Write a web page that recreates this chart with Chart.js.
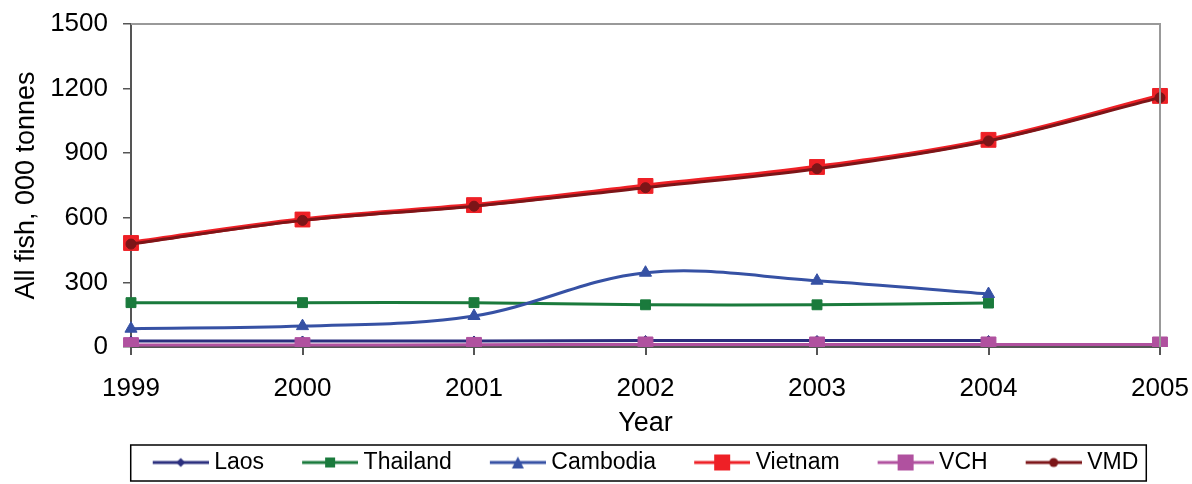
<!DOCTYPE html>
<html>
<head>
<meta charset="utf-8">
<script src="https://cdn.jsdelivr.net/npm/chart.js@4"></script>
<style>
  html, body { margin: 0; padding: 0; background: #fff; }
  #wrap { width: 1192px; height: 484px; }
</style>
</head>
<body>
<div id="wrap"><canvas id="fish-chart" width="1192" height="484"></canvas></div>
<script>
// Data (000 tonnes)
const years = ['1999', '2000', '2001', '2002', '2003', '2004', '2005'];
const laos = [28, 28, 28, 30, 30, 30, null];
const thailand = [206, 206, 206, 196, 196, 204, null];
const cambodia = [85, 97, 144, 345, 308, 246, null];
const vietnam = [483, 592, 659, 748, 836, 962, 1166];
const vch = [9, 9, 10, 12, 12, 12, 12];
const vmd = [478, 588, 654, 740, 828, 957, 1158];
const yTicks = [0, 300, 600, 900, 1200, 1500];

const FONT = 'Liberation Sans, Arial, sans-serif';
const GAP = 34;      // blank space left of each legend symbol
const SYM = 56;      // width of the line+marker symbol
const OVER = 6;      // how far the symbol reaches into the text gap

// Little line+marker image used as the legend symbol
function legendSymbol(color, style, size) {
    const c = document.createElement('canvas');
    c.width = GAP + SYM;
    c.height = 20;
    const g = c.getContext('2d');
    const cx = GAP + SYM / 2, cy = 10;
    g.strokeStyle = color;
    g.lineWidth = 3;
    g.beginPath();
    g.moveTo(GAP, cy);
    g.lineTo(GAP + SYM, cy);
    g.stroke();
    g.fillStyle = color;
    g.beginPath();
    if (style === 'rect') {
        g.rect(cx - size / 2, cy - size / 2, size, size);
    } else if (style === 'rectRot') {
        g.moveTo(cx, cy - size / 2); g.lineTo(cx + size / 2, cy);
        g.lineTo(cx, cy + size / 2); g.lineTo(cx - size / 2, cy);
    } else if (style === 'triangle') {
        g.moveTo(cx, cy - size / 2); g.lineTo(cx + size / 2, cy + size / 2);
        g.lineTo(cx - size / 2, cy + size / 2);
    } else {
        g.arc(cx, cy, size / 2, 0, Math.PI * 2);
    }
    g.fill();
    return c;
}

function series(label, data, color, style, radius, width, legendSize, order) {
    return {
        label: label,
        data: data,
        borderColor: color,
        backgroundColor: color,
        borderWidth: width,
        pointStyle: style,
        pointRadius: radius,
        pointBorderWidth: 1,
        pointBackgroundColor: color,
        pointBorderColor: color,
        tension: 0.35,
        spanGaps: false,
        order: order,
        legendImage: legendSymbol(color, style, legendSize)
    };
}

const datasets = [
    series('Laos', laos, '#2B2F7E', 'rectRot', 5, 3, 9, 6),
    series('Thailand', thailand, '#1A7A3C', 'rect', 7, 3, 10, 5),
    series('Cambodia', cambodia, '#3651A4', 'triangle', 7, 3, 12, 4),
    series('Vietnam', vietnam, '#EE2026', 'rect', 10.5, 4.5, 16, 3),
    series('VCH', vch, '#B0519F', 'rect', 10.5, 3, 16, 2),
    series('VMD', vmd, '#7C1518', 'circle', 5, 3, 9, 1)
];

function legendExtent(lg) {
    let l = Infinity, r = -Infinity, t = Infinity, b = -Infinity;
    lg.legendHitBoxes.forEach(h => {
        l = Math.min(l, h.left); r = Math.max(r, h.left + h.width);
        t = Math.min(t, h.top); b = Math.max(b, h.top + h.height);
    });
    return { l: l + GAP - OVER, r: r, t: t, b: b };
}

// center the visible legend items under the plot area
const legendNudge = {
    id: 'legendNudge',
    beforeDraw(chart) {
        const lg = chart.legend;
        if (!lg || lg._nudged || !lg.legendHitBoxes.length) return;
        const e = legendExtent(lg);
        const a = chart.chartArea;
        const shift = (a.left + a.right) / 2 - (e.l + e.r) / 2;
        lg.left += shift;
        lg.right += shift;
        lg.legendHitBoxes.forEach(h => { h.left += shift; });
        lg._nudged = true;
    }
};

// top/right frame of the plot and the box round the legend
const framePlugin = {
    id: 'frame',
    afterDraw(chart) {
        const ctx = chart.ctx;
        const a = chart.chartArea;
        ctx.save();
        ctx.strokeStyle = '#999999';
        ctx.lineWidth = 2;
        ctx.beginPath();
        ctx.moveTo(a.left, a.top);
        ctx.lineTo(a.right, a.top);
        ctx.lineTo(a.right, a.bottom);
        ctx.stroke();

        if (chart.legend.legendHitBoxes.length) {
            const e = legendExtent(chart.legend);
            const x0 = e.l - 22;
            ctx.strokeStyle = '#000000';
            ctx.lineWidth = 1.5;
            ctx.strokeRect(x0, e.t - 6, (e.r + 8) - x0, (e.b - e.t) + 13);
        }
        ctx.restore();
    }
};

new Chart(document.getElementById('fish-chart').getContext('2d'), {
    type: 'line',
    data: { labels: years, datasets: datasets },
    options: {
        responsive: false,
        animation: false,
        layout: { padding: 0 },
        scales: {
            x: {
                type: 'category',
                offset: false,
                grid: {
                    display: true,
                    drawOnChartArea: false,
                    drawTicks: true,
                    tickLength: 8,
                    color: '#555555',
                    lineWidth: 2
                },
                border: { display: true, color: '#555555', width: 2 },
                ticks: {
                    color: '#000',
                    font: { family: FONT, size: 26 },
                    padding: 18,
                    maxRotation: 0,
                    autoSkip: false
                },
                title: {
                    display: true,
                    text: 'Year',
                    color: '#000',
                    font: { family: FONT, size: 27 },
                    padding: { top: 0, bottom: 1 }
                },
                afterFit(scale) {
                    scale.height = 94;
                    scale.paddingLeft = 0;
                    scale.paddingRight = 32;
                }
            },
            y: {
                min: 0,
                max: 1500,
                afterBuildTicks(scale) { scale.ticks = yTicks.map(v => ({ value: v })); },
                grid: {
                    display: true,
                    drawOnChartArea: false,
                    drawTicks: true,
                    tickLength: 8,
                    color: '#555555',
                    lineWidth: 1.5
                },
                border: { display: true, color: '#555555', width: 2 },
                ticks: {
                    color: '#000',
                    font: { family: FONT, size: 26 },
                    padding: 15,
                    callback: v => String(v)
                },
                title: {
                    display: true,
                    text: 'All fish, 000 tonnes',
                    color: '#000',
                    font: { family: FONT, size: 27 },
                    padding: { top: 10, bottom: 0 }
                },
                afterFit(scale) {
                    scale.width = 131;
                    scale.paddingTop = 24;
                    scale.paddingBottom = 0;
                }
            }
        },
        plugins: {
            legend: {
                position: 'bottom',
                fullSize: true,
                labels: {
                    color: '#000',
                    font: { family: FONT, size: 23 },
                    usePointStyle: true,
                    pointStyleWidth: GAP + SYM - 2 * OVER,
                    padding: 10,
                    generateLabels(chart) {
                        return chart.data.datasets.map((ds, i) => ({
                            text: ds.label,
                            pointStyle: ds.legendImage,
                            fillStyle: ds.borderColor,
                            strokeStyle: ds.borderColor,
                            lineWidth: 0,
                            hidden: false,
                            datasetIndex: i,
                            fontColor: '#000'
                        }));
                    }
                }
            },
            tooltip: { enabled: false }
        }
    },
    plugins: [legendNudge, framePlugin]
});
</script>
</body>
</html>
